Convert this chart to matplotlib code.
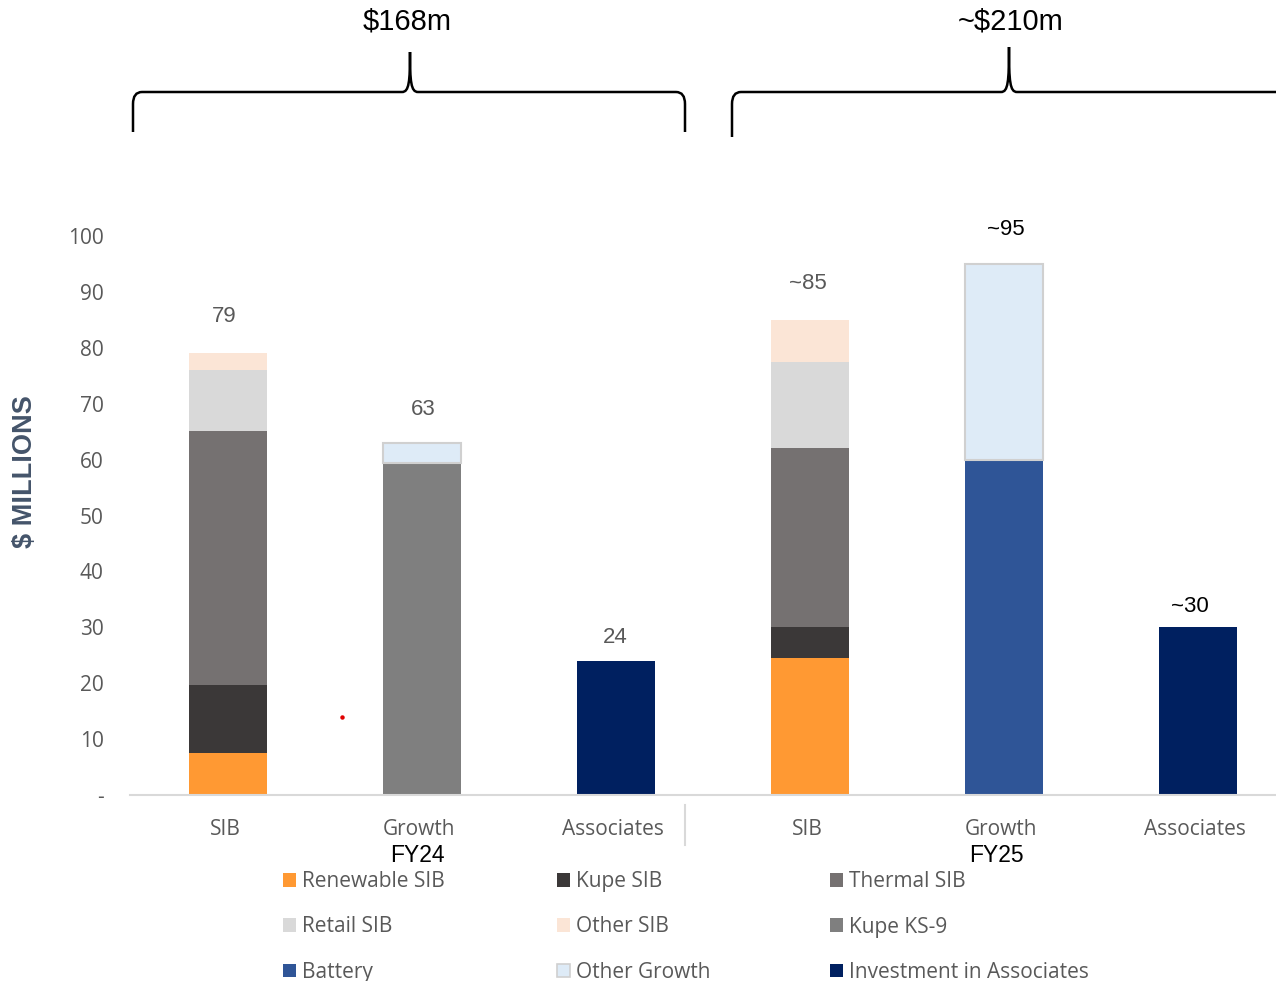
import numpy as np
import matplotlib
matplotlib.use("Agg")
import matplotlib.pyplot as plt
from matplotlib.path import Path
from matplotlib.patches import PathPatch, Patch
from matplotlib.transforms import IdentityTransform, blended_transform_factory

# ---- data -------------------------------------------------------------
categories = ["SIB", "Growth", "Associates", "SIB", "Growth", "Associates"]
periods = ["FY24", "FY25"]
period_totals = ["$168m", "~$210m"]

renewable_sib = [7.6, 0, 0, 24.5, 0, 0]
kupe_sib = [12.0, 0, 0, 5.5, 0, 0]
thermal_sib = [45.5, 0, 0, 32.1, 0, 0]
retail_sib = [11.0, 0, 0, 15.4, 0, 0]
other_sib = [2.9, 0, 0, 7.5, 0, 0]
kupe_ks9 = [0, 59.4, 0, 0, 0, 0]
battery = [0, 0, 0, 0, 60.0, 0]
other_growth = [0, 3.6, 0, 0, 35.0, 0]
investment_associates = [0, 0, 24.0, 0, 0, 30.0]

total_labels = ["79", "63", "24", "~85", "~95", "~30"]

series = [
    ("Renewable SIB", renewable_sib, "#FF9933", None),
    ("Kupe SIB", kupe_sib, "#3B3838", None),
    ("Thermal SIB", thermal_sib, "#757171", None),
    ("Retail SIB", retail_sib, "#D9D9D9", None),
    ("Other SIB", other_sib, "#FBE5D6", None),
    ("Kupe KS-9", kupe_ks9, "#7F7F7F", None),
    ("Battery", battery, "#2F5597", None),
    ("Other Growth", other_growth, "#DEEBF7", "#D0D0D0"),
    ("Investment in Associates", investment_associates, "#002060", None),
]

# ---- figure -----------------------------------------------------------
W, H = 1276, 981
fig = plt.figure(figsize=(W / 100, H / 100), dpi=100)
ax = fig.add_axes([130 / W, 1 - 795 / H, (W - 130) / W, (795 - 236) / H])

TICK_FONT = "Open Sans"
TEXT_FONT = "Liberation Sans"
GREY = "#595959"

x = np.arange(len(categories))
bottom = np.zeros(len(categories))
for name, vals, color, edge in series:
    vals = np.asarray(vals, dtype=float)
    mask = vals > 0
    ax.bar(x[mask], vals[mask], 0.40, bottom=bottom[mask], color=color,
           edgecolor=edge if edge else color, linewidth=1.5 if edge else 0,
           zorder=2)
    bottom += vals

# value labels above each stack (pixel offsets from the stack top)
label_offsets = [(-4, 37), (1, 33), (-1, 23), (-2, 36), (2, 34), (-8, 21)]
label_colors = [GREY, GREY, GREY, GREY, "black", "black"]
for xi, top, txt, (dx, dy), col in zip(x, bottom, total_labels, label_offsets, label_colors):
    ax.annotate(txt, (xi, top), xytext=(dx, dy), textcoords="offset pixels",
                ha="center", va="center", fontsize=16, family=TEXT_FONT,
                color=col, annotation_clip=False)

ax.set_xlim(-0.505, 5.402)
ax.set_ylim(0, 100)
# category labels sit a touch left of the bar centres
ax.set_xticks(x - 0.015)
ax.set_xticklabels(categories, family=TICK_FONT, fontsize=15, color=GREY)
yt = list(range(0, 101, 10))
ax.set_yticks(yt)
ax.set_yticklabels(["-"] + [str(v) for v in yt[1:]], family=TICK_FONT,
                   fontsize=15, color=GREY)
ax.tick_params(axis="both", length=0)
ax.tick_params(axis="y", pad=19)
ax.tick_params(axis="x", pad=17.5)
for side in ("top", "right", "left"):
    ax.spines[side].set_visible(False)
ax.spines["bottom"].set_color("#D9D9D9")
ax.spines["bottom"].set_linewidth(1.5)

# separator between the two years
trans = blended_transform_factory(ax.transData, ax.transAxes)
ax.plot([2.356, 2.356], [-0.018, -0.089], color="#D9D9D9", lw=1.5,
        transform=trans, clip_on=False)

# stray mark
ax.plot([0.588], [13.95], marker="o", markersize=2.2, color="#E00000",
        linestyle="none", zorder=3)

# axis title
fig.text(25 / W, 1 - 472 / H, "$ MILLIONS", rotation=90, ha="center",
         va="center", fontsize=19.5, fontweight="bold", color="#44546A",
         family=TEXT_FONT)

# year labels
for px, lbl in zip([417, 996], periods):
    fig.text(px / W, 1 - 855 / H, lbl, ha="center", va="center",
             fontsize=16.5, family=TEXT_FONT, color="black")


# ---- curly braces -----------------------------------------------------
def brace(x0, x1, xc, yb_left, yb_right, yh, ytip):
    def p(px, py):
        return (px, H - py)
    verts = [
        p(x0, yb_left), p(x0, yh + 12),
        p(x0, yh), p(x0 + 9, yh),
        p(xc - 8, yh),
        p(xc - 1, yh), p(xc, yh - 10), p(xc, ytip),
        p(xc, yh - 10), p(xc + 1, yh), p(xc + 8, yh),
        p(x1 - 9, yh),
        p(x1, yh), p(x1, yh + 12),
        p(x1, yb_right),
    ]
    codes = [Path.MOVETO, Path.LINETO,
             Path.CURVE3, Path.CURVE3,
             Path.LINETO,
             Path.CURVE4, Path.CURVE4, Path.CURVE4,
             Path.CURVE4, Path.CURVE4, Path.CURVE4,
             Path.LINETO,
             Path.CURVE3, Path.CURVE3,
             Path.LINETO]
    patch = PathPatch(Path(verts, codes), facecolor="none", edgecolor="black",
                      lw=1.8, transform=IdentityTransform(), capstyle="butt")
    fig.add_artist(patch)


brace(133, 685, 410, 132, 132, 92, 52)
brace(732, 1310, 1009, 137, 137, 92, 47)
for px, lbl in zip([407, 1011], period_totals):
    fig.text(px / W, 1 - 22 / H, lbl, ha="center", va="center", fontsize=21,
             family=TEXT_FONT, color="black")

# ---- legend: three columns, filled row by row --------------------------
col_x = [283, 557, 830]
for c in range(3):
    items = [series[r * 3 + c] for r in range(3)]
    handles = [Patch(facecolor=col, edgecolor=edge if edge else col,
                     linewidth=1.2 if edge else 0) for _, _, col, edge in items]
    labels = [name for name, _, _, _ in items]
    fig.legend(handles, labels, loc="center left",
               bbox_to_anchor=(col_x[c] / W, 1 - 927 / H),
               frameon=False, borderpad=0, borderaxespad=0,
               handlelength=0.62, handleheight=0.62, handletextpad=0.3,
               labelspacing=1.16, labelcolor=GREY,
               prop={"family": TICK_FONT, "size": 15})

fig.savefig("out.png", dpi=100)
